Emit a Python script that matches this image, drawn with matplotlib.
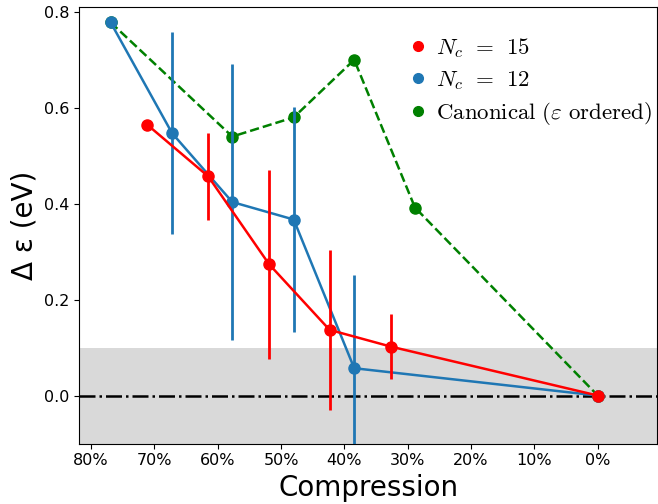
import numpy as np
import matplotlib
matplotlib.use("Agg")
import matplotlib.pyplot as plt
from matplotlib.lines import Line2D

# compression fraction (x), energy gap in eV (y), error half-widths
nc15_x = [0.7115, 0.615, 0.519, 0.4234, 0.3265, 0.0]
nc15_y = [0.565, 0.457, 0.274, 0.137, 0.102, 0.0]
nc15_err = [0.0, 0.090, 0.197, 0.167, 0.068, 0.0]

nc12_x = [0.769, 0.672, 0.577, 0.480, 0.3845, 0.0]
nc12_y = [0.778, 0.547, 0.4035, 0.367, 0.057, 0.0]
nc12_err = [0.0, 0.211, 0.287, 0.235, 0.195, 0.0]

canon_x = [0.769, 0.577, 0.480, 0.3845, 0.2886, 0.0]
canon_y = [0.778, 0.540, 0.580, 0.700, 0.392, 0.0]

xticks = [0.8, 0.7, 0.6, 0.5, 0.4, 0.3, 0.2, 0.1, 0.0]
xtick_labels = ["80%", "70%", "60%", "50%", "40%", "30%", "20%", "10%", "0%"]

plt.rcParams["mathtext.fontset"] = "cm"

fig, ax = plt.subplots(figsize=(6.58, 5.04), dpi=100)

ax.axhspan(-0.1, 0.1, color="#d9d9d9", zorder=0, lw=0)
ax.axhline(0.0, color="black", linestyle="-.", lw=1.8, zorder=1)

ax.plot(canon_x, canon_y, color="green", linestyle="--", lw=1.8,
        marker="o", ms=8, zorder=2)
ax.errorbar(nc12_x, nc12_y, yerr=nc12_err, color="#1f77b4", lw=1.8,
            elinewidth=2, marker="o", ms=8, capsize=0, zorder=3)
ax.errorbar(nc15_x, nc15_y, yerr=nc15_err, color="red", lw=1.8,
            elinewidth=2, marker="o", ms=8, capsize=0, zorder=4)

handles = [
    Line2D([], [], color="red", marker="o", ls="none", ms=7),
    Line2D([], [], color="#1f77b4", marker="o", ls="none", ms=7),
    Line2D([], [], color="green", marker="o", ls="none", ms=7),
]
labels = [r"$N_c\;\,=\;\,15$", r"$N_c\;\,=\;\,12$",
          r"$\mathrm{Canonical\ (\varepsilon\ ordered)}$"]
ax.legend(handles, labels, loc="upper right", frameon=False, fontsize=16.5,
          handletextpad=0.0, labelspacing=0.36, borderaxespad=0.0,
          handlelength=1.6, bbox_to_anchor=(1.007, 0.955))

ax.set_xlim(0.819, -0.094)
ax.set_ylim(-0.1, 0.81)
ax.set_xticks(xticks)
ax.set_xticklabels(xtick_labels)
ax.set_yticks([0.0, 0.2, 0.4, 0.6, 0.8])
ax.tick_params(labelsize=11.5)
ax.set_xlabel("Compression", fontsize=20, labelpad=4)
ax.set_ylabel("Δ ε (eV)", fontsize=20)

fig.subplots_adjust(left=0.12, right=0.999, top=0.986, bottom=0.12)
fig.savefig("out.png", dpi=100)
